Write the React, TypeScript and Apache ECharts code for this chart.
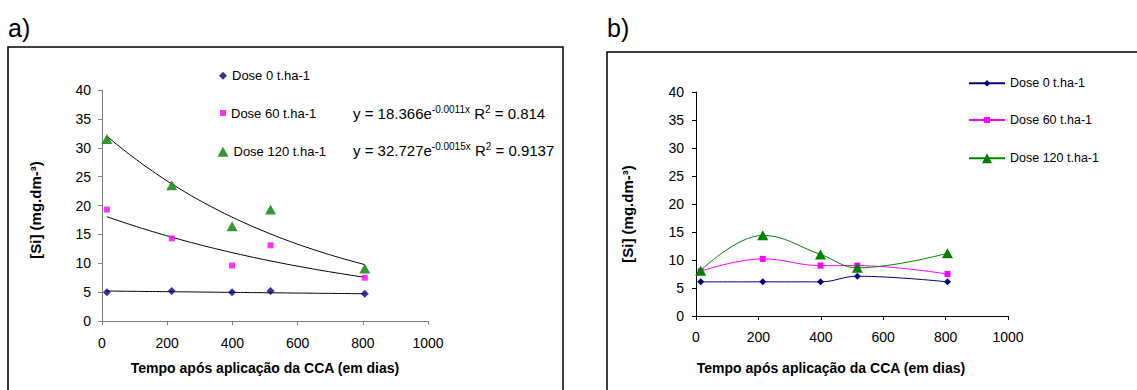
import React, { useEffect, useRef } from "react";
import * as echarts from "echarts";

// ---- data ----
const days = [15, 214, 399, 517, 806];
const doseNames = ["Dose 0 t.ha-1", "Dose 60 t.ha-1", "Dose 120 t.ha-1"];
const colors = ["#000080", "#FF00FF", "#008000"];
const aDose0 = [5.0, 5.2, 5.0, 5.2, 4.7];
const aDose60 = [19.3, 14.3, 9.6, 13.1, 7.5];
const aDose120 = [31.5, 23.5, 16.4, 19.3, 9.1];
const bDose0 = [6.1, 6.1, 6.1, 7.1, 6.1];
const bDose60 = [8.0, 10.2, 9.0, 9.0, 7.5];
const bDose120 = [8.1, 14.4, 11.0, 8.6, 11.2];
// exponential trend lines y = a * e^(k x), coefficients as displayed on the chart
const trendA = [5.2, 18.366, 32.727];
const trendK = [-0.00012, -0.0011, -0.0015];
const eq60 = ["18.366", "-0.0011x", "0.814"];
const eq120 = ["32.727", "-0.0015x", "0.9137"];
const xTitle = "Tempo após aplicação da CCA (em dias)";
const yTitle = "[Si] (mg.dm-³)";

const FONT = "'Liberation Sans', Arial, Helvetica, sans-serif";

function pairs(ys: number[]) {
  return days.map((d, i) => [d, ys[i]]);
}

function trend(i: number) {
  const pts: number[][] = [];
  const x0 = days[0];
  const x1 = days[days.length - 1];
  for (let x = x0; x < x1; x += 10) pts.push([x, trendA[i] * Math.exp(trendK[i] * x)]);
  pts.push([x1, trendA[i] * Math.exp(trendK[i] * x1)]);
  return pts;
}

export default function App() {
  const ref = useRef<HTMLDivElement>(null);
  useEffect(() => {
    if (!ref.current) return;
    const chart = echarts.init(ref.current, null, { renderer: "svg" });

    const aSymbols = ["diamond", "rect", "triangle"];
    const aSizes: any[] = [[8, 8], [6, 6], [11, 10]];
    const bSizes: any[] = [[7, 7], [6, 6], [11, 10]];
    const aData = [aDose0, aDose60, aDose120];
    const bData = [bDose0, bDose60, bDose120];

    const axisCommon = (color: string) => ({
      axisLine: { show: true, lineStyle: { color, width: 1 } },
      axisTick: { show: true, length: 4, lineStyle: { color, width: 1 } },
      splitLine: { show: false },
    });

    const xAxisFor = (grid: number, color: string, margin: number) => ({
      type: "value",
      gridIndex: grid,
      min: 0,
      max: 1000,
      interval: 200,
      ...axisCommon(color),
      axisLabel: { color: "#000", fontSize: 14, fontFamily: FONT, margin, formatter: (v: number) => String(v) },
    });
    const yAxisFor = (grid: number, color: string, margin: number) => ({
      type: "value",
      gridIndex: grid,
      min: 0,
      max: 40,
      interval: 5,
      ...axisCommon(color),
      axisLabel: { color: "#000", fontSize: 14, fontFamily: FONT, margin, formatter: (v: number) => String(v) },
    });

    const series: any[] = [];
    doseNames.forEach((n, i) => {
      series.push({
        name: "a::" + n,
        type: "scatter",
        xAxisIndex: 0,
        yAxisIndex: 0,
        symbol: aSymbols[i],
        symbolSize: aSizes[i],
        itemStyle: { color: colors[i] },
        data: pairs(aData[i]),
        z: 3,
      });
    });
    doseNames.forEach((n, i) => {
      series.push({
        name: "trend" + i,
        type: "line",
        xAxisIndex: 0,
        yAxisIndex: 0,
        showSymbol: false,
        symbol: "none",
        lineStyle: { color: "#000", width: 1 },
        data: trend(i),
        z: 2,
      });
    });
    doseNames.forEach((n, i) => {
      series.push({
        name: "b::" + n,
        type: "line",
        xAxisIndex: 1,
        yAxisIndex: 1,
        smooth: 0.4,
        symbol: aSymbols[i],
        symbolSize: bSizes[i],
        showSymbol: true,
        lineStyle: { color: colors[i], width: 1 },
        itemStyle: { color: colors[i] },
        data: pairs(bData[i]),
      });
    });

    const legendBase = {
      orient: "vertical",
      padding: 0,
      selectedMode: false,
      formatter: (n: string) => n.split("::")[1],
      textStyle: { fontSize: 13, lineHeight: 16, color: "#000", fontFamily: FONT },
    };
    const aRows = [75.7, 113, 151.7];
    const bRows = [83.3, 120, 158.3];
    const aLegW = [8, 6, 11];
    const aLegH = [8, 6, 10];
    const bLegH = [8, 7.5, 12.5];
    const legends: any[] = [];
    doseNames.forEach((n, i) => {
      legends.push({
        ...legendBase,
        data: ["a::" + n],
        left: 223 - aLegW[i] / 2,
        top: aRows[i] - 8,
        itemWidth: aLegW[i],
        itemHeight: aLegH[i],
        itemGap: 3,
      });
    });
    doseNames.forEach((n, i) => {
      legends.push({
        ...legendBase,
        data: ["b::" + n],
        left: 968,
        top: bRows[i] - 8,
        itemWidth: 36,
        itemHeight: bLegH[i],
        textStyle: { ...legendBase.textStyle, fontSize: 12.5 },
      });
    });

    const eqRich = {
      b: { fontSize: 15, lineHeight: 17, fontFamily: FONT, color: "#000" },
      s: { fontSize: 10, lineHeight: 10, verticalAlign: "top", fontFamily: FONT, color: "#000" },
    };
    const eqText = (e: string[]) =>
      `{b|y = ${e[0]}e}{s|${e[1]}}{b| R}{s|2}{b| = ${e[2]}}`;

    const titleStyle = (text: string, size: number) => ({
      text,
      fontSize: size,
      fontWeight: "bold",
      fontFamily: FONT,
      fill: "#000",
      align: "center",
      verticalAlign: "middle",
    });

    chart.setOption({
      animation: false,
      backgroundColor: "#fff",
      grid: [
        { left: 102, top: 90, width: 326, height: 231 },
        { left: 696, top: 92, width: 312, height: 224 },
      ],
      xAxis: [xAxisFor(0, "#808080", 15), xAxisFor(1, "#000", 14)],
      yAxis: [yAxisFor(0, "#808080", 11), yAxisFor(1, "#000", 12)],
      legend: legends,
      series,
      graphic: [
        { type: "rect", shape: { x: 8, y: 47, width: 555, height: 400 }, style: { fill: "none", stroke: "#000", lineWidth: 1.5 }, z: -1 },
        { type: "rect", shape: { x: 607, y: 52, width: 600, height: 400 }, style: { fill: "none", stroke: "#000", lineWidth: 1.5 }, z: -1 },
        { type: "text", x: 8, y: 28, style: { text: "a)", fontSize: 25, fontFamily: FONT, fill: "#000", verticalAlign: "middle" } },
        { type: "text", x: 607, y: 28, style: { text: "b)", fontSize: 25, fontFamily: FONT, fill: "#000", verticalAlign: "middle" } },
        { type: "text", x: 35, y: 210, rotation: Math.PI / 2, style: titleStyle(yTitle, 15) },
        { type: "text", x: 627, y: 214, rotation: Math.PI / 2, style: titleStyle(yTitle, 15) },
        { type: "text", x: 265, y: 368, style: titleStyle(xTitle, 14) },
        { type: "text", x: 831, y: 368, style: titleStyle(xTitle, 14) },
        { type: "text", x: 353, y: 113, style: { text: eqText(eq60), rich: eqRich, verticalAlign: "middle" } },
        { type: "text", x: 353, y: 150, style: { text: eqText(eq120), rich: eqRich, verticalAlign: "middle" } },
      ],
    });
    return () => chart.dispose();
  }, []);
  return (
    <div
      ref={ref}
      style={{ position: "fixed", left: 0, top: 0, width: 1137, height: 390, background: "#fff" }}
    />
  );
}
